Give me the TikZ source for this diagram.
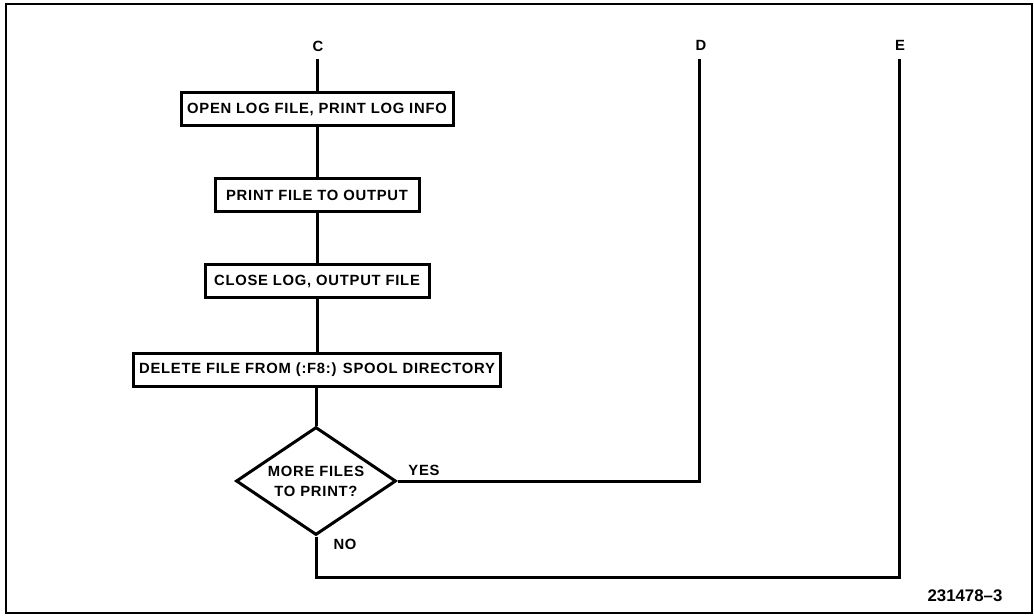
\documentclass[tikz,border=0pt]{standalone}
\usepackage{fontspec}
\newfontfamily\lblfont{Liberation Sans}[LetterSpace=5]
\newfontfamily\figfont{Liberation Sans}
\usetikzlibrary{shapes.geometric}
\begin{document}
\begin{tikzpicture}[x=0.5pt,y=-0.5pt,
  txt/.style={font=\lblfont\bfseries\fontsize{7.4}{10}\selectfont},
  box/.style={txt,draw,line width=1.5pt,minimum height=16.5pt,inner sep=0pt},
  dec/.style={txt,draw,shape=diamond,aspect=1.46,line width=1.5pt,minimum width=80pt,minimum height=54pt,inner sep=-4pt,align=center},
  lbl/.style={txt,inner sep=0pt},
  conn/.style={line width=1.5pt},
  figlbl/.style={font=\figfont\bfseries\fontsize{8.4}{10}\selectfont,inner sep=0pt}]
\useasboundingbox (0,0) rectangle (1034,616);
\draw[line width=1pt] (6,4) rectangle (1032,613);
\node[lbl] (C) at (318,46) {C};
\coordinate (cC) at (317,59);
\node[box,minimum width=136pt] (b1) at (317,109) {OPEN LOG FILE, PRINT LOG INFO};
\node[box,minimum width=102pt] (b2) at (317,195) {PRINT FILE TO OUTPUT};
\node[box,minimum width=112pt] (b3) at (317,281) {CLOSE LOG, OUTPUT FILE};
\node[box,minimum width=183.6pt] (b4) at (317,370) {DELETE FILE FROM (:F8:) SPOOL DIRECTORY};
\node[dec] (q) at (316,481) {MORE FILES\\TO PRINT?};
\node[lbl] (D) at (701,45) {D};
\coordinate (cD) at (699,59);
\node[lbl] (E) at (900,45) {E};
\coordinate (cE) at (899,59);
\coordinate (cN) at (316,577);
\node[lbl] (yes) at (424,470) {YES};
\node[lbl] (no) at (345,544) {NO};
\node[figlbl] (fig) at (965,596) {231478\textendash 3};
\draw[conn] (cC) -- (b1);
\draw[conn] (b1) -- (b2);
\draw[conn] (b2) -- (b3);
\draw[conn] (b3) -- (b4);
\draw[conn] (b4.south -| q.north) -- (q.north);
\draw[conn] (q.east) -| (cD);
\draw[conn] (q.south) -- (cN) -| (cE);
\end{tikzpicture}
\end{document}
